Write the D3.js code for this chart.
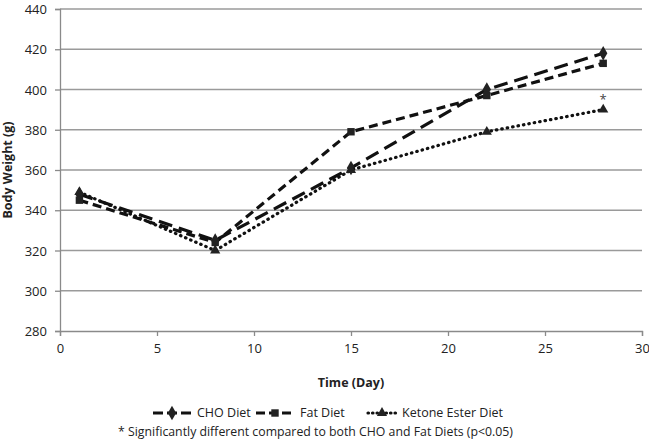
<!DOCTYPE html>
<html><head><meta charset="utf-8">
<script src="https://cdn.jsdelivr.net/npm/d3@7"></script>
<style>body{margin:0;background:#fff}svg{display:block;font-family:"Open Sans",sans-serif}</style>
</head><body><svg id="c" width="649" height="440"></svg>
<script>
const days = [1, 8, 15, 22, 28];
const choDiet = [348, 325, 361, 400, 418];
const fatDiet = [345, 324, 379, 397, 413];
const ketoneDiet = [349, 320, 360, 379, 390];
const xTicks = [0, 5, 10, 15, 20, 25, 30];
const yTicks = [280, 300, 320, 340, 360, 380, 400, 420, 440];
const seriesNames = ["CHO Diet", "Fat Diet", "Ketone Ester Diet"];
const footnote = "* Significantly different compared to both CHO and Fat Diets (p<0.05)";

const svg = d3.select("#c");
const x = d3.scaleLinear().domain([0, 30]).range([60, 642]);
const y = d3.scaleLinear().domain([280, 440]).range([331, 9]);

// gridlines
svg.append("g").selectAll("line").data(yTicks.slice(1)).join("line")
  .attr("x1", x(0)).attr("x2", x(30)).attr("y1", d => y(d)).attr("y2", d => y(d))
  .attr("stroke", "#9a9a9a").attr("stroke-width", 1.3);

const gx = svg.append("g").attr("transform", `translate(0,${y(280)})`)
  .call(d3.axisBottom(x).tickValues(xTicks).tickSize(5).tickPadding(8).tickFormat(d3.format("d")));
const gy = svg.append("g").attr("transform", `translate(${x(0)},0)`)
  .call(d3.axisLeft(y).tickValues(yTicks).tickSize(5).tickPadding(8));
[gx, gy].forEach(g => {
  g.select(".domain").attr("stroke", "#8a8a8a").attr("stroke-width", 1.3);
  g.selectAll(".tick line").attr("stroke", "#8a8a8a").attr("stroke-width", 1.3);
  g.selectAll("text").attr("font-size", 13).attr("fill", "#222").attr("font-family", "Open Sans");
});
gy.selectAll(".tick text").attr("dy", "0.35em");

svg.append("text").attr("x", x(15)).attr("y", 387).attr("text-anchor", "middle")
  .attr("font-size", 12.5).attr("font-weight", "bold").attr("fill", "#222").text("Time (Day)");
svg.append("text").attr("transform", `translate(12,${y(360)}) rotate(-90)`).attr("text-anchor", "middle")
  .attr("font-size", 12.5).attr("font-weight", "bold").attr("fill", "#222").text("Body Weight (g)");

const dashes = ["14,7", "9,5", "0.5,5"];
const caps = ["butt", "butt", "round"];
const allData = [choDiet, fatDiet, ketoneDiet];
const line = d3.line().x(d => x(d[0])).y(d => y(d[1])).curve(d3.curveLinear);

const symbols = [d3.symbolDiamond, d3.symbolSquare, d3.symbolTriangle];
const symSizes = [60, 55, 45];

allData.forEach((vals, i) => {
  const pts = days.map((d, j) => [d, vals[j]]);
  svg.append("path").datum(pts).attr("d", line).attr("fill", "none")
    .attr("stroke", "#111").attr("stroke-width", 3.2).attr("stroke-linejoin", "round")
    .attr("stroke-dasharray", dashes[i]).attr("stroke-linecap", caps[i]);
  svg.append("g").selectAll("path").data(pts).join("path")
    .attr("transform", d => `translate(${x(d[0])},${y(d[1])})`)
    .attr("d", d3.symbol().type(symbols[i]).size(symSizes[i])).attr("fill", "#222");
});

// asterisk
svg.append("text").attr("x", x(28)).attr("y", y(ketoneDiet[4]) - 6).attr("text-anchor", "middle")
  .attr("font-size", 13).attr("fill", "#444").text("*");

// legend
const legendX = [153, 256, 368];
const legendW = [38, 38, 28];
seriesNames.forEach((name, i) => {
  const g = svg.append("g").attr("transform", `translate(${legendX[i]},413)`);
  g.append("line").attr("x1", 0).attr("x2", legendW[i]).attr("y1", 0).attr("y2", 0)
    .attr("stroke", "#111").attr("stroke-width", 3.2).attr("stroke-dasharray", i === 2 ? "0.5,4" : (i === 0 ? "10,4" : "9,4"))
    .attr("stroke-linecap", caps[i]);
  g.append("path").attr("transform", `translate(${legendW[i] / 2},0)`)
    .attr("d", d3.symbol().type(symbols[i]).size(symSizes[i])).attr("fill", "#222");
  g.append("text").attr("x", legendW[i] + 6).attr("y", 0).attr("dy", "0.35em")
    .attr("font-size", 12.5).attr("fill", "#222").text(name);
});

svg.append("text").attr("x", 118).attr("y", 436).attr("font-size", 12.3).attr("fill", "#222").text(footnote);
</script></body></html>
